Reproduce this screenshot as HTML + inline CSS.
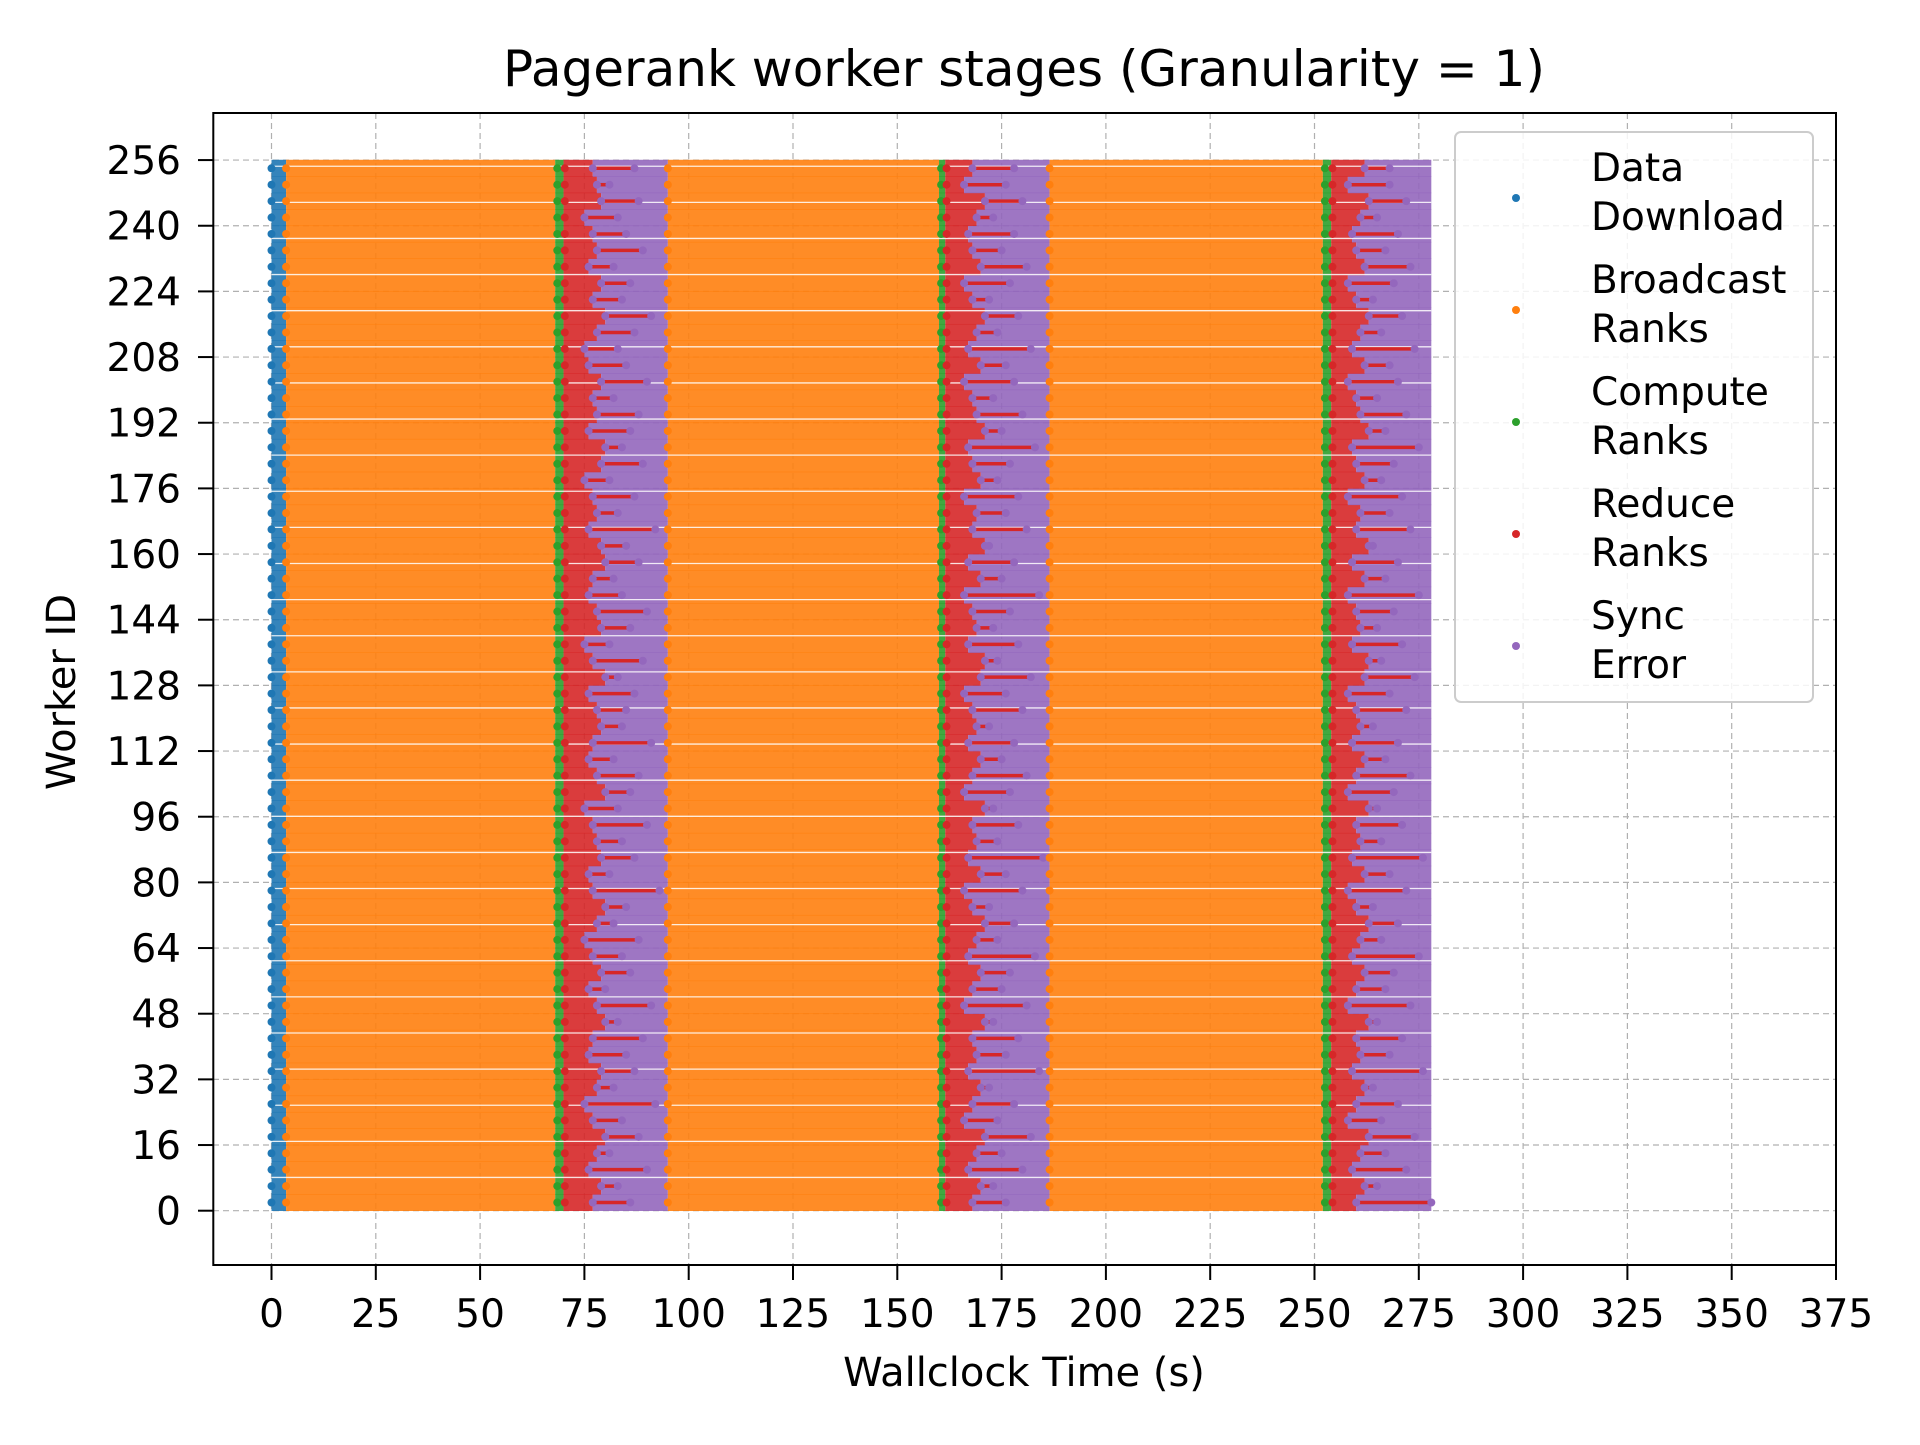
<!DOCTYPE html>
<html><head><meta charset="utf-8"><style>
body{margin:0;background:#fff;}
svg text{font-family:"DejaVu Sans","Liberation Sans",sans-serif;fill:#000;}
</style></head><body>
<svg id="chart" width="1920" height="1440" viewBox="0 0 1920 1440" xmlns="http://www.w3.org/2000/svg">
<rect width="1920" height="1440" fill="#fff"/>
<g id="grid"></g>
<g id="marks"></g>
<rect x="213.3" y="113" width="1622.7" height="1152" fill="none" stroke="#000" stroke-width="2"/>
<g id="axes"></g>
<text x="1024" y="86" font-size="50" text-anchor="middle">Pagerank worker stages (Granularity = 1)</text>
<text x="1024" y="1386" font-size="40" text-anchor="middle">Wallclock Time (s)</text>
<text transform="translate(75,692) rotate(-90)" font-size="40" text-anchor="middle">Worker ID</text>
<g id="legend"></g>
</svg>
<script>
const xTicks=[0,25,50,75,100,125,150,175,200,225,250,275,300,325,350,375];
const yTicks=[0,16,32,48,64,80,96,112,128,144,160,176,192,208,224,240,256];
const stageNames=[["Data","Download"],["Broadcast","Ranks"],["Compute","Ranks"],["Reduce","Ranks"],["Sync","Error"]];
const stageColors=["#1f77b4","#ff7f0e","#2ca02c","#d62728","#9467bd"];
const downloadEnd=3.5;
const iterStart=[3.5,95,186.5];
const computeStart=[68,160,252];
const reduceStart=[70,161.5,254];
const iterEnd=[95,186.5,278];
const p1=[77,79,76,78,80,77,75,78,79,76,77,80,78,76,79,77,75,78,80,77,76,79,78,77,75,80,78,76,77,79,78,76,80,77,75,79,78,76,77,80,79,76,78,77,75,79,80,76,78,77,79,76,75,78,80,77,79,76,78,77,75,79,78,77];
const r1=[86,83,90,81,88,84,92,82,87,85,89,83,91,80,86,84,88,82,85,93,81,87,84,90,83,86,88,82,91,84,85,87,83,89,81,86,90,84,82,88,85,92,83,87,81,89,84,86,88,82,90,85,83,87,91,84,86,82,89,85,83,88,81,87];
const p2=[168,170,167,169,171,166,168,170,167,169,168,171,166,168,170,167,169,171,168,166,170,167,169,168,171,166,168,170,167,169,168,166,170,171,167,169,168,166,170,167,171,168,169,166,170,168,167,171,169,168,166,170,167,169,171,168,166,170,168,167,169,171,166,168];
const r2=[176,173,180,175,182,174,178,172,184,176,179,173,181,175,177,183,174,178,172,180,176,185,174,179,173,177,181,175,178,172,180,176,182,174,179,173,177,184,175,178,172,181,176,179,174,177,183,175,180,173,178,176,182,174,179,172,177,181,175,178,173,180,176,178];
const p3=[260,262,259,261,263,258,260,262,259,261,260,263,258,260,262,259,261,263,260,258,262,259,261,260,263,258,260,262,259,261,260,258,262,263,259,261,260,258,262,259,263,260,261,258,262,260,259,263,261,260,258,262,259,261,263,260,258,262,260,259,261,263,258,262];
const r3=[278,265,272,267,274,266,270,264,276,268,271,265,273,267,269,275,266,270,264,272,268,276,266,271,265,269,273,267,270,264,272,268,274,266,271,265,269,275,267,270,264,273,268,271,266,269,275,267,272,265,270,268,274,266,271,264,269,273,267,270,265,272,268,268];
const purpleStarts=[p1,p2,p3], redEnds=[r1,r2,r3];
const workersPerRow=4;
const NS="http://www.w3.org/2000/svg";
const X0=271.5, XS=4.172, Y0=1210.7, YS=4.104;
const sx=v=>X0+v*XS, sy=v=>Y0-v*YS;
function mk(tag,attrs,parent){const e=document.createElementNS(NS,tag);for(const k in attrs)e.setAttribute(k,attrs[k]);parent.appendChild(e);return e;}
const grid=document.getElementById('grid'),axes=document.getElementById('axes'),marks=document.getElementById('marks'),legend=document.getElementById('legend');
xTicks.forEach(t=>{
  const l=mk('line',{x1:sx(t),x2:sx(t),y1:113,y2:1265,stroke:'#b0b0b0','stroke-width':1.2,'stroke-dasharray':'6,4'},grid);
  
  
  mk('line',{x1:sx(t),x2:sx(t),y1:1265,y2:1280,stroke:'#000','stroke-width':2},axes);
  const tx=mk('text',{x:sx(t),y:1327,'font-size':39,'text-anchor':'middle'},axes);tx.textContent=t;
  
  
});
yTicks.forEach(t=>{
  const l=mk('line',{x1:213,x2:1836,y1:sy(t),y2:sy(t),stroke:'#b0b0b0','stroke-width':1.2,'stroke-dasharray':'6,4'},grid);
  
  
  mk('line',{x1:198,x2:213,y1:sy(t),y2:sy(t),stroke:'#000','stroke-width':2},axes);
  const tx=mk('text',{x:181,y:sy(t)+14,'font-size':39,'text-anchor':'end'},axes);tx.textContent=t;
  
  
});
const nRows=p1.length;
const h=workersPerRow*YS+0.6;
function seg(a,b,w,c,name){const r=mk('rect',{x:sx(a),y:sy(w+workersPerRow)-0.3,width:Math.max(0,sx(b)-sx(a)),height:h,fill:c,'fill-opacity':0.9},marks);
  
  }
for(let i=0;i<nRows;i++){
  const w=i*workersPerRow;
  seg(0,downloadEnd,w,stageColors[0],'download-segment');
  for(let k=0;k<3;k++){
    seg(iterStart[k],computeStart[k],w,stageColors[1],'broadcast-segment');
    seg(computeStart[k],reduceStart[k],w,stageColors[2],'compute-segment');
    seg(reduceStart[k],purpleStarts[k][i],w,stageColors[3],'reduce-segment');
    seg(purpleStarts[k][i],iterEnd[k],w,stageColors[4],'sync-segment');
  }
}
for(let v=254.5;v>0;v-=8.8){mk('line',{x1:sx(0),x2:sx(278),y1:sy(v),y2:sy(v),stroke:'#fff','stroke-width':1.3,'stroke-opacity':0.85},marks);}
for(let i=0;i<nRows;i++){
  const w=i*workersPerRow+2;
  const d=mk('circle',{cx:sx(0),cy:sy(w),r:4,fill:stageColors[0]},marks);
  
  
  for(let k=0;k<3;k++){
    const pts=[[iterStart[k],1],[computeStart[k]+0.5,2],[reduceStart[k]+0.3,3]];
    pts.forEach(([v,c])=>{const p=mk('circle',{cx:sx(v),cy:sy(w),r:4,fill:stageColors[c]},marks);
      
      });
    const ln=mk('line',{x1:sx(purpleStarts[k][i]),x2:sx(redEnds[k][i]),y1:sy(w),y2:sy(w),stroke:stageColors[3],'stroke-width':3.5},marks);
    
    
    [purpleStarts[k][i],redEnds[k][i]].forEach(v=>{const p=mk('circle',{cx:sx(v),cy:sy(w),r:4,fill:stageColors[4]},marks);
      
      });
  }
}
const lb=mk('rect',{x:1455,y:132,width:358,height:570,rx:6,fill:'#fff','fill-opacity':0.85,stroke:'#ccc','stroke-width':2},legend);


stageNames.forEach((n,i)=>{
  const cy=198+i*112;
  const g=mk('g',{},legend);
  
  
  mk('circle',{cx:1516,cy:cy,r:4,fill:stageColors[i]},g);
  const t1=mk('text',{x:1591,y:cy-17,'font-size':39},g);t1.textContent=n[0];
  const t2=mk('text',{x:1591,y:cy+32,'font-size':39},g);t2.textContent=n[1];
});
</script>
</body></html>
